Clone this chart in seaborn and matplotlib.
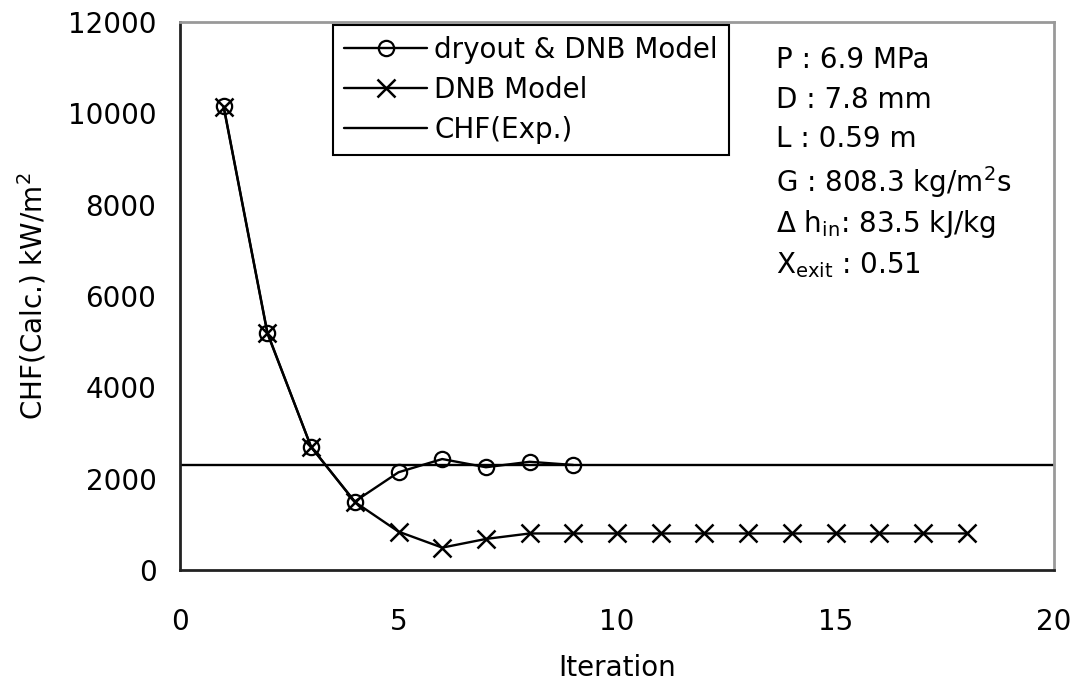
import matplotlib
matplotlib.use("Agg")
import matplotlib.pyplot as plt
import seaborn as sns
import pandas as pd

# Data
iter_dry = [1, 2, 3, 4, 5, 6, 7, 8, 9]
chf_dry = [10150, 5200, 2690, 1500, 2140, 2430, 2250, 2370, 2300]
iter_dnb = [1, 2, 3, 4, 5, 6, 7, 8, 9, 10, 11, 12, 13, 14, 15, 16, 17, 18]
chf_dnb = [10130, 5180, 2700, 1490, 840, 490, 680, 800, 800, 800, 800, 800, 800, 800, 800, 800, 800, 800]
chf_exp = 2290
x_ticks = [0, 5, 10, 15, 20]
y_ticks = [0, 2000, 4000, 6000, 8000, 10000, 12000]
labels = ["dryout & DNB Model", "DNB Model", "CHF(Exp.)"]

sns.set_theme(style="white")
plt.rcParams['font.family'] = ['DejaVu Sans']
plt.rcParams['mathtext.fontset'] = 'dejavusans'
plt.rcParams['text.color'] = 'black'
plt.rcParams['axes.labelcolor'] = 'black'

FS = 20

fig = plt.figure(figsize=(10.79, 6.83), dpi=100)
ax = fig.add_axes([180/1079, 1 - 570/683, (1054-180)/1079, (570-22)/683])

df1 = pd.DataFrame({"x": iter_dry, "y": chf_dry})
df2 = pd.DataFrame({"x": iter_dnb, "y": chf_dnb})

sns.lineplot(data=df1, x="x", y="y", ax=ax, color="black", lw=1.7, marker="o",
             markersize=11, markerfacecolor="none", markeredgecolor="black",
             markeredgewidth=1.6, label=labels[0])
sns.lineplot(data=df2, x="x", y="y", ax=ax, color="black", lw=1.7, marker="x",
             markersize=13, markeredgewidth=1.8, markeredgecolor="black", label=labels[1])
ax.axhline(chf_exp, color="black", lw=1.7, label=labels[2])

ax.set_xlim(0, 20)
ax.set_ylim(0, 12000)
ax.set_xticks(x_ticks)
ax.set_yticks(y_ticks)
ax.tick_params(axis="both", direction="in", length=9, width=1, labelsize=FS, colors="black")
ax.tick_params(axis="y", pad=17)
ax.tick_params(axis="x", pad=27)
ax.set_xlabel("Iteration", fontsize=FS, labelpad=13)
ax.set_ylabel("CHF(Calc.) kW/m$^{2}$", fontsize=FS, labelpad=14)

for s in ["left", "bottom"]:
    ax.spines[s].set_color("#222222")
    ax.spines[s].set_linewidth(2)
for s in ["top", "right"]:
    ax.spines[s].set_color("#999999")
    ax.spines[s].set_linewidth(2)

leg = ax.legend(loc="upper left", bbox_to_anchor=(153/874, 1.0 - 3/548), fontsize=FS,
                frameon=True, fancybox=False, edgecolor="black", framealpha=1,
                handlelength=3.0, handletextpad=0.25, borderpad=0.4, labelspacing=0.43,
                borderaxespad=0)
leg.get_frame().set_linewidth(1.5)

info = ["P : 6.9 MPa", "D : 7.8 mm", "L : 0.59 m",
        "G : 808.3 kg/m$^{2}$s", "Δ h$_{\\mathrm{in}}$: 83.5 kJ/kg", "X$_{\\mathrm{exit}}$ : 0.51"]
ys = [57, 97, 136, 178, 220, 262]
for t, yy in zip(info, ys):
    fig.text(776/1079, 1 - yy/683, t, fontsize=FS, va="center_baseline", ha="left")

fig.savefig("out.png", dpi=100)
